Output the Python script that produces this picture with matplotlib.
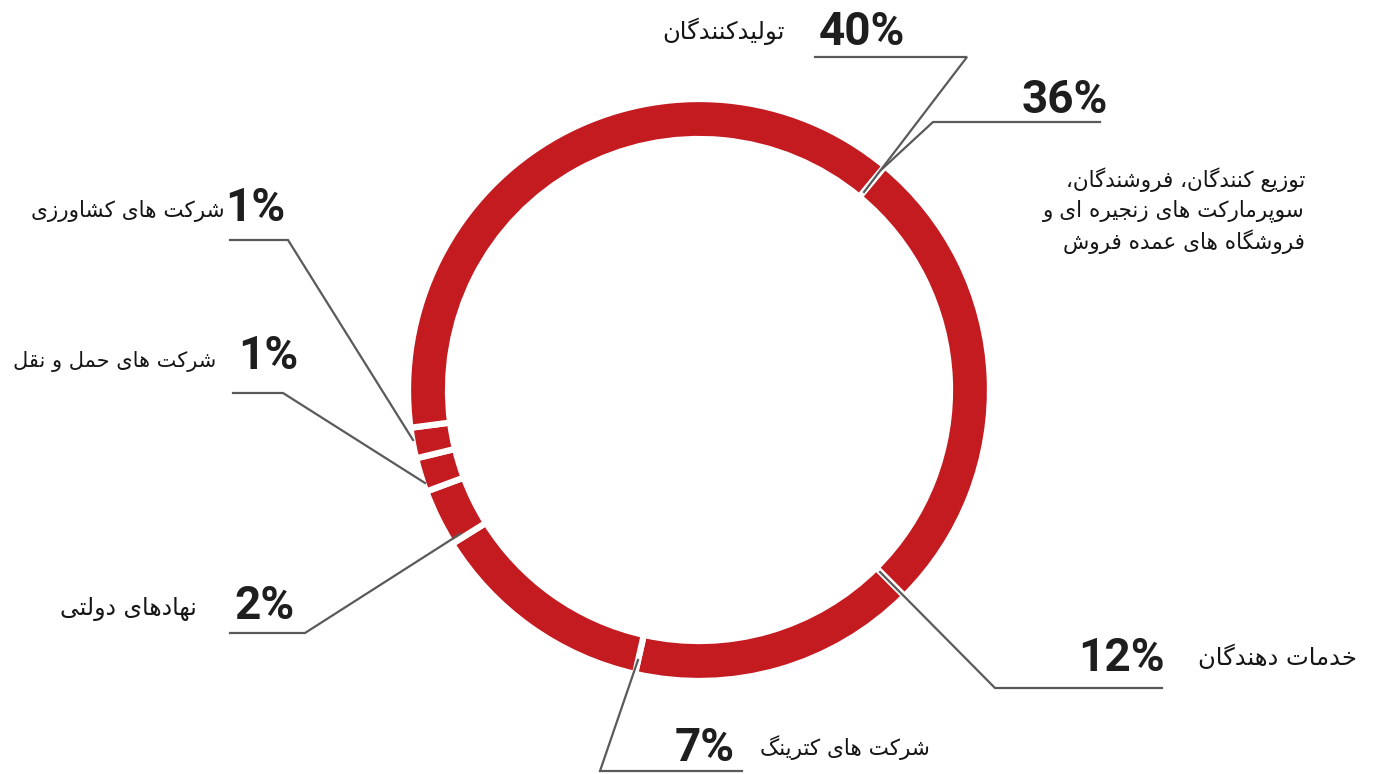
import matplotlib
matplotlib.use("Agg")
import matplotlib.pyplot as plt
from matplotlib.patches import Wedge

# data, in ring order going clockwise from the top-right gap
names = [
    "توزیع کنندگان، فروشندگان،\nسوپرمارکت های زنجیره ای و\nفروشگاه های عمده فروش",
    "خدمات دهندگان",
    "شرکت های کترینگ",
    "نهادهای دولتی",
    "شرکت های حمل و نقل",
    "شرکت های کشاورزی",
    "تولیدکنندگان",
]
shares = [36, 12, 7, 2, 1, 1, 40]
# share of the ring each arc takes as drawn in the picture
arc_shares = [26.5, 16.0, 12.6, 3.2, 1.9, 1.7, 38.1]

# --- simple persian shaping (matplotlib has no complex text layout) ---
FORMS = {
    "ا": ("\uFE8D", "\uFE8E"), "ب": ("\uFE8F", "\uFE90", "\uFE91", "\uFE92"),
    "پ": ("\uFB56", "\uFB57", "\uFB58", "\uFB59"), "ت": ("\uFE95", "\uFE96", "\uFE97", "\uFE98"),
    "ث": ("\uFE99", "\uFE9A", "\uFE9B", "\uFE9C"), "ج": ("\uFE9D", "\uFE9E", "\uFE9F", "\uFEA0"),
    "چ": ("\uFB7A", "\uFB7B", "\uFB7C", "\uFB7D"), "ح": ("\uFEA1", "\uFEA2", "\uFEA3", "\uFEA4"),
    "خ": ("\uFEA5", "\uFEA6", "\uFEA7", "\uFEA8"), "د": ("\uFEA9", "\uFEAA"),
    "ذ": ("\uFEAB", "\uFEAC"), "ر": ("\uFEAD", "\uFEAE"), "ز": ("\uFEAF", "\uFEB0"),
    "ژ": ("\uFB8A", "\uFB8B"), "س": ("\uFEB1", "\uFEB2", "\uFEB3", "\uFEB4"),
    "ش": ("\uFEB5", "\uFEB6", "\uFEB7", "\uFEB8"), "ص": ("\uFEB9", "\uFEBA", "\uFEBB", "\uFEBC"),
    "ض": ("\uFEBD", "\uFEBE", "\uFEBF", "\uFEC0"), "ط": ("\uFEC1", "\uFEC2", "\uFEC3", "\uFEC4"),
    "ظ": ("\uFEC5", "\uFEC6", "\uFEC7", "\uFEC8"), "ع": ("\uFEC9", "\uFECA", "\uFECB", "\uFECC"),
    "غ": ("\uFECD", "\uFECE", "\uFECF", "\uFED0"), "ف": ("\uFED1", "\uFED2", "\uFED3", "\uFED4"),
    "ق": ("\uFED5", "\uFED6", "\uFED7", "\uFED8"), "ک": ("\uFB8E", "\uFB8F", "\uFB90", "\uFB91"),
    "گ": ("\uFB92", "\uFB93", "\uFB94", "\uFB95"), "ل": ("\uFEDD", "\uFEDE", "\uFEDF", "\uFEE0"),
    "م": ("\uFEE1", "\uFEE2", "\uFEE3", "\uFEE4"), "ن": ("\uFEE5", "\uFEE6", "\uFEE7", "\uFEE8"),
    "و": ("\uFEED", "\uFEEE"), "ه": ("\uFEE9", "\uFEEA", "\uFEEB", "\uFEEC"),
    "ی": ("\uFBFC", "\uFBFD", "\uFBFE", "\uFBFF"),
}


def shape_line(s):
    out = []
    for i, c in enumerate(s):
        if c not in FORMS:
            out.append(c)
            continue
        prev = s[i - 1] if i > 0 else ""
        nxt = s[i + 1] if i + 1 < len(s) else ""
        jp = prev in FORMS and len(FORMS[prev]) == 4
        jn = len(FORMS[c]) == 4 and nxt in FORMS
        f = FORMS[c]
        if jp and jn:
            out.append(f[3])
        elif jp:
            out.append(f[1])
        elif jn:
            out.append(f[2])
        else:
            out.append(f[0])
    return "".join(out)[::-1]


def fa(s):
    return "\n".join(shape_line(l) for l in s.split("\n"))


fig = plt.figure(figsize=(13.74, 7.74), dpi=100)
ax = fig.add_axes([0, 0, 1, 1])
ax.set_xlim(0, 1374)
ax.set_ylim(774, 0)
ax.set_aspect("equal")
ax.axis("off")

red = "#c41b21"
cx, cy = 699, 390
start = 50.3
total = sum(arc_shares)
for a in arc_shares:
    span = 360 * a / total
    a1, a2 = start - span, start
    ax.add_patch(Wedge((cx, cy), 291, -a2, -a1, width=40, facecolor=red,
                       edgecolor="white", linewidth=4.5, zorder=2))
    start = a1

# leader lines and label layout (pixel positions)
lines = [
    [(1100, 122), (933, 122), (881, 170)],
    [(1162, 688), (995, 688), (880, 572)],
    [(742, 771), (600, 771), (638, 660)],
    [(230, 633), (305, 633), (460, 534)],
    [(233, 393), (283, 393), (425, 483)],
    [(230, 240), (288, 240), (413, 440)],
    [(815, 57), (967, 57), (864, 192)],
]
pct_pos = [(1108, 100), (1165, 658), (735, 748), (295, 606), (298, 356), (285, 208), (905, 32)]
name_pos = [(1305, 211), (1357, 657), (930, 748), (197, 609), (216, 361), (225, 211), (785, 31)]
name_size = [15.5, 17.5, 15.5, 17, 15, 15.5, 17.5]

line_col = "#5a5a5a"
for pts in lines:
    xs, ys = zip(*pts)
    ax.plot(xs, ys, color=line_col, lw=1.6, zorder=3, solid_joinstyle="miter")

for s, (x, y) in zip(shares, pct_pos):
    ax.text(x, y, f"{s}%", ha="right", va="center", fontsize=33, fontweight="bold",
            family="Roboto", color="#1e1e1e")

for n, (x, y), fs in zip(names, name_pos, name_size):
    ax.text(x, y, fa(n), ha="right", va="center", fontsize=fs, family="DejaVu Sans",
            color="#161616", linespacing=1.4)

fig.savefig("out.png", dpi=100, facecolor="white")
